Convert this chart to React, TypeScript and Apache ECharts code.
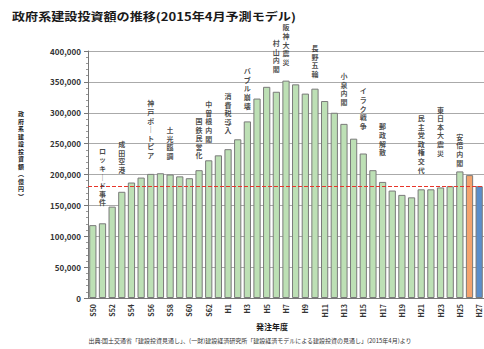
import React, { useEffect, useRef } from "react";
import * as echarts from "echarts";

// 発注年度 (S50 = 1975 ... H27 = 2015)
const fiscalYears = [
  "S50", "S51", "S52", "S53", "S54", "S55", "S56", "S57", "S58", "S59",
  "S60", "S61", "S62", "S63", "H1", "H2", "H3", "H4", "H5", "H6",
  "H7", "H8", "H9", "H10", "H11", "H12", "H13", "H14", "H15", "H16",
  "H17", "H18", "H19", "H20", "H21", "H22", "H23", "H24", "H25", "H26",
  "H27",
];

// 政府系建設投資額 (億円)
const investment = [
  118000, 121000, 148000, 172000, 187000, 195000, 201000, 202000, 200000, 197000,
  194000, 207000, 223000, 231000, 241000, 257000, 286000, 323000, 342000, 334000,
  352000, 346000, 331000, 339000, 319000, 300000, 282000, 258000, 234000, 207000,
  188000, 174000, 167000, 163000, 176000, 176000, 179000, 181000, 205000, 199000,
  181000,
];

const yTicks = [0, 50000, 100000, 150000, 200000, 250000, 300000, 350000, 400000];

// 主な出来事
const eventYears = [
  "S51", "S53", "S56", "S58", "S61", "S62", "H1", "H3", "H6", "H7",
  "H10", "H13", "H15", "H17", "H21", "H23", "H25",
];
const eventNames = [
  "ロッキード事件", "成田空港", "神戸ポートピア", "土光臨調", "国鉄民営化",
  "中曽根内閣", "消費税導入", "バブル崩壊", "村山内閣", "阪神大震災",
  "長野五輪", "小泉内閣", "イラク戦争", "郵政解散", "民主党政権交代",
  "東日本大震災", "安倍内閣",
];

// layout: pixel gap between a bar top and the foot of its caption
const eventGaps = [16, 17, 14, 14, 10, 17, 14, 11, 18, 14, 10, 17, 23, 25, 15, 30, 4];

const FONT = '"Noto Sans CJK JP", "Noto Sans", sans-serif';
const GREEN = "#bde0b5";
const ORANGE = "#f4a46e";
const BLUE = "#5b8ecb";

const vertical = (s: string) =>
  s.replace(/ー/g, "｜").replace(/\(/g, "︵").replace(/\)/g, "︶").split("").join("\n");

export default function App() {
  const ref = useRef<HTMLDivElement>(null);

  useEffect(() => {
    if (!ref.current) return;
    const chart = echarts.init(ref.current, undefined, { renderer: "svg" });
    const last = investment.length - 1;

    chart.setOption({
      animation: false,
      backgroundColor: "#ffffff",
      textStyle: { fontFamily: FONT },
      grid: { left: 88, right: 0, top: 51, bottom: 51, containLabel: false },
      xAxis: {
        type: "category",
        data: fiscalYears,
        axisLine: { lineStyle: { color: "#777" } },
        axisTick: { show: false },
        axisLabel: {
          interval: 1,
          rotate: 90,
          margin: 6,
          fontSize: 7,
          fontWeight: "bold",
          color: "#333",
          fontFamily: FONT,
        },
      },
      yAxis: {
        type: "value",
        min: yTicks[0],
        max: yTicks[yTicks.length - 1],
        interval: yTicks[1] - yTicks[0],
        axisLine: { show: true, lineStyle: { color: "#777" } },
        axisTick: { show: true, length: 4, lineStyle: { color: "#777" } },
        minorTick: { show: true, splitNumber: 5, length: 2, lineStyle: { color: "#999" } },
        splitLine: { lineStyle: { color: "#aaa", width: 1 } },
        axisLabel: {
          margin: 7,
          fontSize: 8,
          fontWeight: "bold",
          color: "#333",
          fontFamily: FONT,
          formatter: (v: number) => v.toLocaleString("en-US"),
        },
      },
      series: [
        {
          type: "bar",
          data: investment.map((v, i) => ({
            value: v,
            itemStyle: {
              color: i === last ? BLUE : i === last - 1 ? ORANGE : GREEN,
            },
          })),
          barCategoryGap: "25%",
          itemStyle: { borderColor: "#7a7a7a", borderWidth: 1 },
          emphasis: { disabled: true },
          markLine: {
            silent: true,
            symbol: "none",
            label: { show: false },
            lineStyle: { color: "#e8352a", type: "dashed", width: 1 },
            data: [{ yAxis: investment[last] }],
          },
          z: 2,
        },
        {
          type: "scatter",
          symbolSize: 1,
          itemStyle: { color: "rgba(0,0,0,0)" },
          emphasis: { disabled: true },
          silent: true,
          z: 5,
          data: eventYears.map((y, i) => ({
            value: [y, investment[fiscalYears.indexOf(y)]],
            label: { distance: eventGaps[i] },
          })),
          label: {
            show: true,
            position: "top",
            formatter: (p: any) => vertical(eventNames[p.dataIndex]),
            fontSize: 7,
            lineHeight: 8.6,
            fontWeight: "bold",
            color: "#1a1a1a",
            fontFamily: FONT,
          },
        },
      ],
      graphic: [
        {
          type: "text",
          left: 12,
          top: 10,
          scaleX: 1.19,
          style: {
            text: "政府系建設投資額の推移(2015年4月予測モデル)",
            fontSize: 11,
            fontWeight: "bold",
            fill: "#1a1a1a",
            fontFamily: FONT,
          },
        },
        {
          type: "text",
          left: 18,
          top: 110,
          style: {
            text: vertical("政府系建設投資額(億円)"),
            fontSize: 6,
            lineHeight: 7.5,
            fontWeight: "bold",
            fill: "#1a1a1a",
            fontFamily: FONT,
          },
        },
        {
          type: "text",
          x: 272,
          y: 322,
          style: {
            text: "発注年度",
            align: "center",
            fontSize: 8,
            fontWeight: "bold",
            fill: "#1a1a1a",
            fontFamily: FONT,
          },
        },
        {
          type: "text",
          x: 250,
          y: 337,
          style: {
            text: "出典:国土交通省「建設投資見通し」、(一財)建設経済研究所「建設経済モデルによる建設投資の見通し」(2015年4月)より",
            align: "center",
            fontSize: 6,
            fill: "#333",
            fontFamily: FONT,
          },
        },
      ],
    });

    return () => chart.dispose();
  }, []);

  return (
    <div
      ref={ref}
      style={{ position: "fixed", left: 0, top: 0, width: 484, height: 349, background: "#fff" }}
    />
  );
}
